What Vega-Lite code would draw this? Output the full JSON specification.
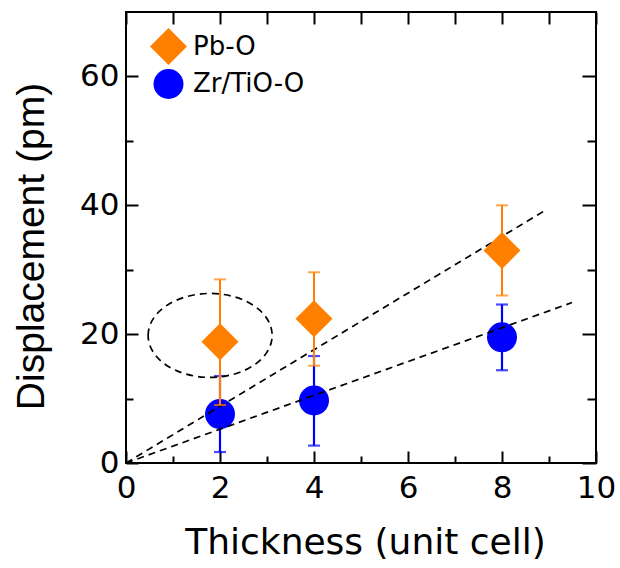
{
  "$schema": "https://vega.github.io/schema/vega-lite/v6.json",
  "autosize": {"type": "none"},
  "width": 470,
  "height": 451,
  "padding": {"left": 126, "top": 12, "right": 24, "bottom": 105},
  "background": "white",
  "config": {
    "font": "DejaVu Sans",
    "view": {"stroke": "black", "strokeWidth": 2},
    "axis": {"grid": false, "domain": false, "tickColor": "black", "tickWidth": 2, "labelColor": "black", "titleColor": "black", "labelFont": "DejaVu Sans", "titleFont": "DejaVu Sans", "labelFontSize": 31, "titleFontSize": 36, "titleFontWeight": "normal", "labelOverlap": false, "labelFlush": false, "labelBound": false}
  },
  "datasets": {
    "pts": [
      {"series": "Zr/TiO-O", "thickness": 2, "disp": 7.6, "lo": 1.7, "hi": 13.5},
      {"series": "Zr/TiO-O", "thickness": 4, "disp": 9.7, "lo": 2.7, "hi": 16.6},
      {"series": "Zr/TiO-O", "thickness": 8, "disp": 19.5, "lo": 14.4, "hi": 24.6},
      {"series": "Pb-O", "thickness": 2, "disp": 18.8, "lo": 9.0, "hi": 28.5},
      {"series": "Pb-O", "thickness": 4, "disp": 22.4, "lo": 15.1, "hi": 29.6},
      {"series": "Pb-O", "thickness": 8, "disp": 33.0, "lo": 26.0, "hi": 40.0}
    ],
    "fits": [
      {"fit": "a", "thickness": 0, "disp": 0},
      {"fit": "a", "thickness": 8.94, "disp": 39.3},
      {"fit": "b", "thickness": 0, "disp": 0},
      {"fit": "b", "thickness": 9.49, "disp": 24.9}
    ],
    "mark": [
      {"thickness": 1.79, "disp": 19.8}
    ]
  },
  "resolve": {"axis": {"x": "independent", "y": "independent"}},
  "layer": [
    {
      "data": {"name": "pts"},
      "transform": [{"filter": "datum.series === 'Zr/TiO-O'"}],
      "mark": {"type": "rule", "strokeWidth": 2.2, "color": "#0000FF"},
      "encoding": {
        "x": {"field": "thickness", "type": "quantitative", "scale": {"domain": [0, 10], "nice": false},
          "axis": {"orient": "bottom", "values": [0,1,2,3,4,5,6,7,8,9,10],
            "labelExpr": "datum.value % 2 === 0 ? datum.label : ''",
            "tickSize": {"condition": {"test": "datum.value % 2 === 0", "value": -12}, "value": -7},
            "labelPadding": 22, "title": "Thickness (unit cell)",
            "titleX": 239, "titleY": 90, "titleBaseline": "alphabetic"}},
        "y": {"field": "lo", "type": "quantitative", "scale": {"domain": [0, 70], "nice": false},
          "axis": {"orient": "left", "values": [0,10,20,30,40,50,60],
            "labelExpr": "datum.value % 20 === 0 ? datum.label : ''",
            "tickSize": {"condition": {"test": "datum.value % 20 === 0", "value": -12}, "value": -7},
            "labelPadding": 19, "title": "Displacement (pm)",
            "titleFont": "Liberation Sans", "titleFontSize": 39,
            "titleX": -83, "titleY": 234, "titleBaseline": "alphabetic"}},
        "y2": {"field": "hi"}
      }
    },
    {
      "data": {"name": "pts"},
      "transform": [{"filter": "datum.series === 'Zr/TiO-O'"}],
      "mark": {"type": "tick", "orient": "horizontal", "size": 12, "thickness": 2.2, "color": "#0000FF"},
      "encoding": {
        "x": {"field": "thickness", "type": "quantitative", "axis": null},
        "y": {"field": "hi", "type": "quantitative", "axis": null}
      }
    },
    {
      "data": {"name": "pts"},
      "transform": [{"filter": "datum.series === 'Zr/TiO-O'"}],
      "mark": {"type": "tick", "orient": "horizontal", "size": 12, "thickness": 2.2, "color": "#0000FF"},
      "encoding": {
        "x": {"field": "thickness", "type": "quantitative", "axis": null},
        "y": {"field": "lo", "type": "quantitative", "axis": null}
      }
    },
    {
      "data": {"name": "pts"},
      "transform": [{"filter": "datum.series === 'Zr/TiO-O'"}],
      "mark": {"type": "point", "filled": true, "opacity": 1, "strokeWidth": 0},
      "encoding": {
        "x": {"field": "thickness", "type": "quantitative", "axis": null},
        "y": {"field": "disp", "type": "quantitative", "axis": null},
        "color": {"field": "series", "type": "nominal", "scale": {"domain": ["Pb-O", "Zr/TiO-O"], "range": ["#FF8000", "#0000FF"]},
          "legend": {"orient": "none", "legendX": 24, "legendY": 16, "title": null, "labelFontSize": 26, "labelFont": "DejaVu Sans", "labelColor": "black", "labelOffset": 6, "rowPadding": 4, "symbolOpacity": 1, "symbolStrokeWidth": 0}},
        "shape": {"field": "series", "type": "nominal", "scale": {"domain": ["Pb-O", "Zr/TiO-O"], "range": ["diamond", "circle"]}},
        "size": {"field": "series", "type": "nominal", "scale": {"domain": ["Pb-O", "Zr/TiO-O"], "range": [1369, 900]}}
      }
    },
    {
      "data": {"name": "fits"},
      "mark": {"type": "line", "color": "black", "strokeWidth": 1.7, "strokeDash": [7, 5]},
      "encoding": {
        "x": {"field": "thickness", "type": "quantitative",
          "axis": {"orient": "top", "values": [0,1,2,3,4,5,6,7,8,9,10], "labels": false, "title": null,
            "tickSize": -12}},
        "y": {"field": "disp", "type": "quantitative",
          "axis": {"orient": "right", "values": [0,10,20,30,40,50,60], "labels": false, "title": null,
            "tickSize": {"condition": {"test": "datum.value % 20 === 0", "value": -14}, "value": -9}}},
        "detail": {"field": "fit", "type": "nominal"}
      }
    },
    {
      "data": {"name": "mark"},
      "mark": {"type": "point", "filled": false, "color": "black", "strokeWidth": 1.7, "strokeDash": [7, 5], "opacity": 1, "size": 15376,
        "shape": "M -1 0 C -1 -0.374 -0.552 -0.677 0 -0.677 C 0.552 -0.677 1 -0.374 1 0 C 1 0.374 0.552 0.677 0 0.677 C -0.552 0.677 -1 0.374 -1 0 Z"},
      "encoding": {
        "x": {"field": "thickness", "type": "quantitative", "axis": null},
        "y": {"field": "disp", "type": "quantitative", "axis": null}
      }
    },
    {
      "data": {"name": "pts"},
      "transform": [{"filter": "datum.series === 'Pb-O'"}],
      "mark": {"type": "rule", "strokeWidth": 2, "color": "#FF8000"},
      "encoding": {
        "x": {"field": "thickness", "type": "quantitative", "axis": null},
        "y": {"field": "lo", "type": "quantitative", "axis": null},
        "y2": {"field": "hi"}
      }
    },
    {
      "data": {"name": "pts"},
      "transform": [{"filter": "datum.series === 'Pb-O'"}],
      "mark": {"type": "tick", "orient": "horizontal", "size": 12, "thickness": 2, "color": "#FF8000"},
      "encoding": {
        "x": {"field": "thickness", "type": "quantitative", "axis": null},
        "y": {"field": "hi", "type": "quantitative", "axis": null}
      }
    },
    {
      "data": {"name": "pts"},
      "transform": [{"filter": "datum.series === 'Pb-O'"}],
      "mark": {"type": "tick", "orient": "horizontal", "size": 12, "thickness": 2, "color": "#FF8000"},
      "encoding": {
        "x": {"field": "thickness", "type": "quantitative", "axis": null},
        "y": {"field": "lo", "type": "quantitative", "axis": null}
      }
    },
    {
      "data": {"name": "pts"},
      "transform": [{"filter": "datum.series === 'Pb-O'"}],
      "mark": {"type": "point", "filled": true, "opacity": 1, "strokeWidth": 0},
      "encoding": {
        "x": {"field": "thickness", "type": "quantitative", "axis": null},
        "y": {"field": "disp", "type": "quantitative", "axis": null},
        "color": {"field": "series", "type": "nominal"},
        "shape": {"field": "series", "type": "nominal"},
        "size": {"field": "series", "type": "nominal"}
      }
    }
  ]
}
